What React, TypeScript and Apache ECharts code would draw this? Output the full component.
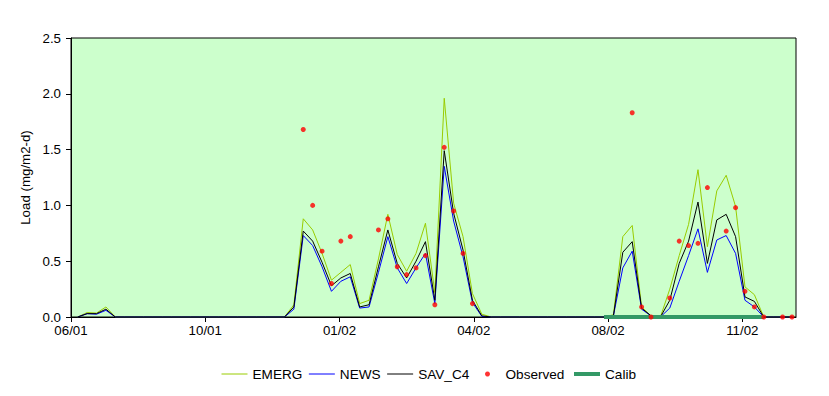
import React, { useEffect, useRef } from "react";
import * as echarts from "echarts";

// x positions: samples are weekly, counted in days from the axis origin
const firstSampleDay = 5;
const sampleStepDays = 7;
const axisMaxDay = 540;
const tickLabels = ["06/01", "10/01", "01/02", "04/02", "08/02", "11/02"];
const yTicks = [0, 0.5, 1.0, 1.5, 2.0, 2.5];

// weekly model results (index = week number)
const emerg = [
  0, 0.04, 0.035, 0.09, 0, 0, 0, 0, 0, 0,
  0, 0, 0, 0, 0, 0, 0, 0, 0, 0,
  0, 0, 0, 0.11, 0.88, 0.78, 0.57, 0.33, 0.40, 0.47,
  0.12, 0.15, 0.52, 0.92, 0.56, 0.41, 0.57, 0.84, 0.22, 1.96,
  1.02, 0.72, 0.21, 0.025, 0, 0, 0, 0, 0, 0,
  0, 0, 0, 0, 0, 0, 0, 0.02, 0.72, 0.82,
  0.09, 0.01, 0, 0.25, 0.55, 0.83, 1.32, 0.63, 1.13, 1.27,
  0.99, 0.27, 0.20, 0, 0, 0, 0,
];
const news = [
  0, 0.03, 0.025, 0.06, 0, 0, 0, 0, 0, 0,
  0, 0, 0, 0, 0, 0, 0, 0, 0, 0,
  0, 0, 0, 0.07, 0.73, 0.64, 0.45, 0.23, 0.32, 0.36,
  0.08, 0.09, 0.40, 0.72, 0.44, 0.30, 0.44, 0.57, 0.12, 1.35,
  0.86, 0.54, 0.13, 0.005, 0, 0, 0, 0, 0, 0,
  0, 0, 0, 0, 0, 0, 0, 0.01, 0.44, 0.59,
  0.07, 0.01, 0, 0.08, 0.32, 0.55, 0.79, 0.40, 0.69, 0.73,
  0.57, 0.15, 0.09, 0, 0, 0, 0,
];
const savC4 = [
  0, 0.03, 0.03, 0.07, 0, 0, 0, 0, 0, 0,
  0, 0, 0, 0, 0, 0, 0, 0, 0, 0,
  0, 0, 0, 0.09, 0.77, 0.68, 0.49, 0.28, 0.35, 0.39,
  0.09, 0.11, 0.45, 0.78, 0.48, 0.35, 0.50, 0.675, 0.15, 1.49,
  0.93, 0.60, 0.15, 0.01, 0, 0, 0, 0, 0, 0,
  0, 0, 0, 0, 0, 0, 0, 0.01, 0.58, 0.675,
  0.08, 0.01, 0, 0.15, 0.48, 0.68, 1.03, 0.48, 0.87, 0.92,
  0.72, 0.18, 0.14, 0, 0, 0, 0,
];

// observations (week number, value)
const observedWeeks = [
  24, 25, 26, 27, 28, 29, 32, 33, 34, 35, 36, 37, 38, 39, 40, 41, 42,
  59, 60, 61, 63, 64, 65, 66, 67, 69, 70, 71, 72, 73, 75, 76,
];
const observedValues = [
  1.68, 1.0, 0.59, 0.3, 0.68, 0.72, 0.78, 0.88, 0.45, 0.38, 0.44, 0.55, 0.11, 1.52, 0.95, 0.57, 0.12,
  1.83, 0.09, 0.0, 0.17, 0.68, 0.64, 0.66, 1.16, 0.77, 0.98, 0.23, 0.09, 0.0, 0.0, 0.0,
];

// calibration period (week numbers)
const calibWeeks = [56, 73];
const calibValues = [0, 0];

const weekToDay = (w: number) => firstSampleDay + sampleStepDays * w;
const toPairs = (vals: number[]) => vals.map((v, i) => [weekToDay(i), v]);

const FONT = "Liberation Sans";
const FS = 13.3;
const LFS = 13.6;

export default function App() {
  const ref = useRef<HTMLDivElement>(null);

  useEffect(() => {
    if (!ref.current) return;
    const chart = echarts.init(ref.current, undefined, { renderer: "svg" });
    const hideSym = { opacity: 0 };
    const legendBase = {
      top: 367,
      padding: 0,
      itemWidth: 26,
      itemHeight: 5,
      itemGap: 6,
      textStyle: { fontFamily: FONT, fontSize: LFS, color: "#000" },
      lineStyle: { width: "inherit" },
    };
    chart.setOption({
      animation: false,
      backgroundColor: "#ffffff",
      textStyle: { fontFamily: FONT, fontSize: FS, color: "#000" },
      grid: {
        left: 71,
        top: 38,
        width: 725,
        height: 279,
        show: true,
        backgroundColor: "#CCFFCC",
        borderColor: "#000",
        borderWidth: 1,
      },
      legend: [
        {
          ...legendBase,
          left: 221,
          data: [
            { name: "EMERG", itemStyle: hideSym },
            { name: "NEWS", itemStyle: hideSym },
            { name: "SAV_C4", itemStyle: hideSym },
          ],
        },
        {
          ...legendBase,
          left: 485,
          data: [{ name: "Observed", icon: "circle" }],
        },
        {
          ...legendBase,
          left: 572,
          data: [{ name: "Calib", itemStyle: hideSym }],
        },
      ],
      xAxis: {
        type: "value",
        min: 0,
        max: axisMaxDay,
        interval: 100,
        axisLine: { show: true, lineStyle: { color: "#000", width: 1 } },
        axisTick: { show: true, inside: false, length: 5, lineStyle: { color: "#000" } },
        splitLine: { show: false },
        axisLabel: {
          margin: 7,
          color: "#000",
          fontFamily: FONT,
          fontSize: FS,
          showMaxLabel: false,
          formatter: (v: number) => (v % 100 === 0 ? tickLabels[v / 100] ?? "" : ""),
        },
      },
      yAxis: {
        type: "value",
        min: yTicks[0],
        max: yTicks[yTicks.length - 1],
        interval: 0.5,
        name: "Load (mg/m2-d)",
        nameLocation: "middle",
        nameGap: 37,
        nameRotate: 90,
        nameTextStyle: { fontFamily: FONT, fontSize: FS, color: "#000" },
        axisLine: { show: true, lineStyle: { color: "#000", width: 1 } },
        axisTick: { show: true, inside: false, length: 5, lineStyle: { color: "#000" } },
        splitLine: { show: false },
        axisLabel: {
          margin: 10,
          color: "#000",
          fontFamily: FONT,
          fontSize: FS,
          formatter: (v: number) => v.toFixed(1),
        },
      },
      series: [
        {
          name: "EMERG",
          type: "line",
          symbol: "none",
          data: toPairs(emerg),
          lineStyle: { color: "#99CC00", width: 1 },
          itemStyle: { color: "#99CC00" },
        },
        {
          name: "NEWS",
          type: "line",
          symbol: "none",
          data: toPairs(news),
          lineStyle: { color: "#0000FF", width: 1 },
          itemStyle: { color: "#0000FF" },
        },
        {
          name: "SAV_C4",
          type: "line",
          symbol: "none",
          data: toPairs(savC4),
          lineStyle: { color: "#000000", width: 1 },
          itemStyle: { color: "#000000" },
        },
        {
          name: "Observed",
          type: "scatter",
          symbol: "circle",
          symbolSize: 5,
          z: 4,
          data: observedWeeks.map((w, i) => [weekToDay(w), observedValues[i]]),
          itemStyle: { color: "#FF0000" },
        },
        {
          name: "Calib",
          type: "line",
          symbol: "none",
          z: 3,
          data: calibWeeks.map((w, i) => [weekToDay(w), calibValues[i]]),
          lineStyle: { color: "#339966", width: 4 },
          itemStyle: { color: "#339966" },
        },
      ],
    });
    return () => chart.dispose();
  }, []);

  return (
    <div
      ref={ref}
      style={{ position: "fixed", left: 0, top: 0, width: 829, height: 396 }}
    />
  );
}
